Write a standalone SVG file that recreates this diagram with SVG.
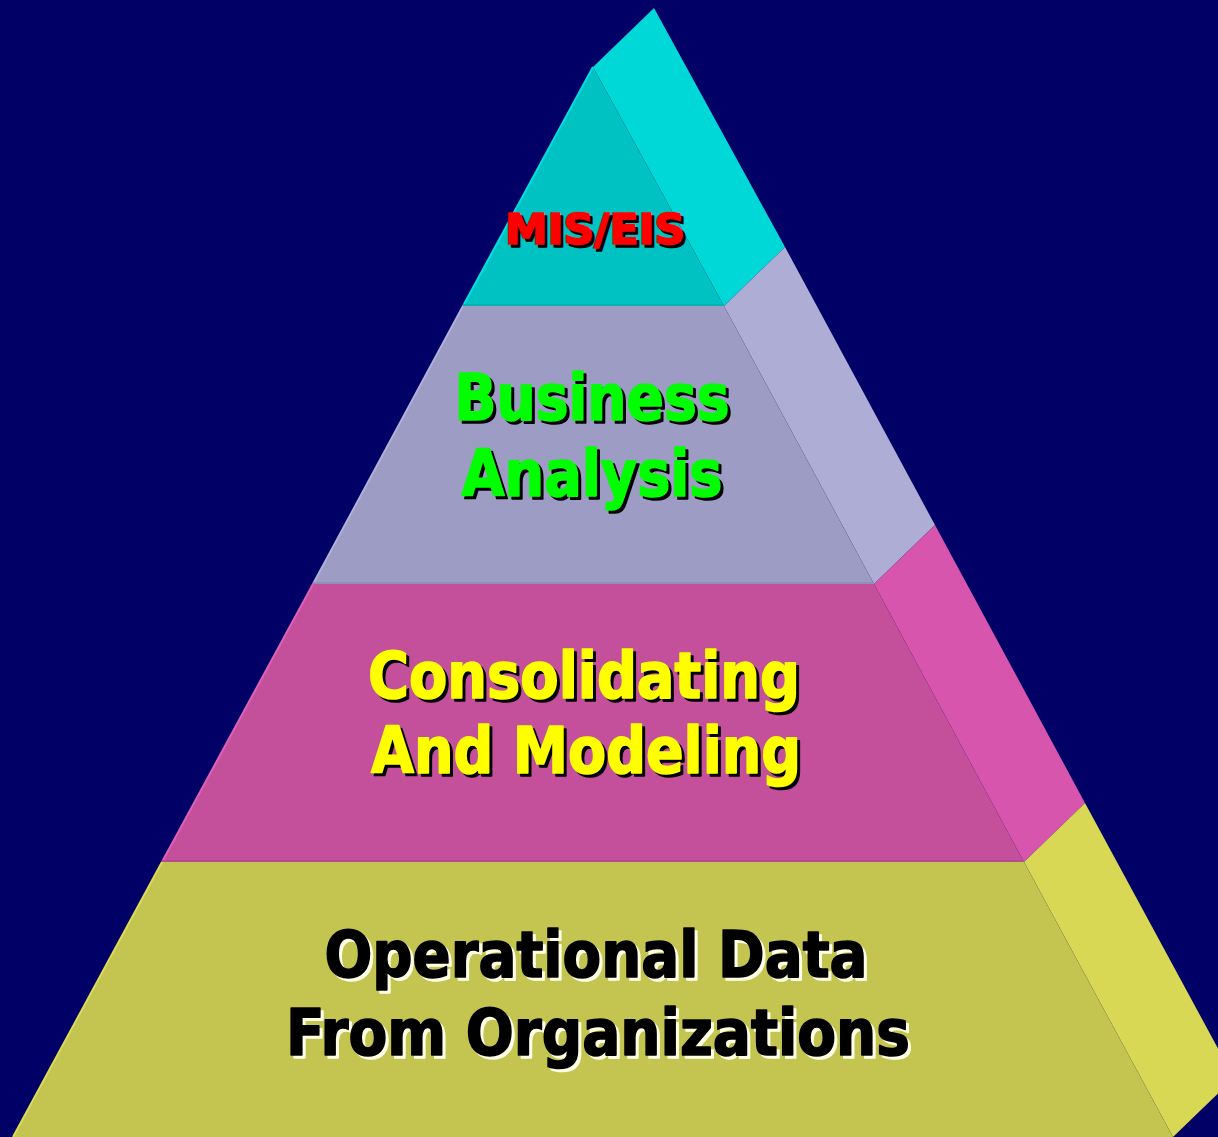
<svg xmlns="http://www.w3.org/2000/svg" width="1218" height="1137" viewBox="0 0 1218 1137">
<style>
.t{font-family:"DejaVu Sans Condensed","DejaVu Sans","Liberation Sans",sans-serif;font-stretch:condensed;font-weight:bold;text-anchor:middle;stroke-width:1.6;stroke-linejoin:round}
.big{font-size:64px}
.sh{fill:#000000;stroke:#000000}
.shw{fill:#FFFFE8;stroke:#FFFFE8}
.red{fill:#FF0000;stroke:#FF0000}
.grn{fill:#00FF00;stroke:#00FF00}
.yel{fill:#FFFF00;stroke:#FFFF00}
.blk{fill:#000000;stroke:#000000}
</style>
<rect width="1218" height="1137" fill="#000066"/>
<g id="tier-mis">
<polygon points="593,67 654,8 785,247 724,306" fill="#00D8D8"/>
<polygon points="593,67 463,306 724,306" fill="#00C2C2"/>
<line x1="593" y1="67" x2="463" y2="306" stroke="#00E0E0" stroke-width="2"/>
<line x1="463" y1="305" x2="724" y2="305" stroke="#00B4B4" stroke-width="2"/>
<text class="t sh" x="598" y="247" font-size="43" textLength="180" lengthAdjust="spacingAndGlyphs">MIS/EIS</text>
<text class="t red" x="595" y="244" font-size="43" textLength="180" lengthAdjust="spacingAndGlyphs">MIS/EIS</text>
</g>
<g id="tier-business">
<polygon points="724,306 785,247 935,525 874,584" fill="#ADADD6"/>
<polygon points="463,306 313,584 874,584 724,306" fill="#9C9CC4"/>
<line x1="463" y1="306" x2="313" y2="584" stroke="#B0B0DA" stroke-width="2"/>
<line x1="313" y1="583" x2="874" y2="583" stroke="#9090B8" stroke-width="2"/>
<text class="t big sh" x="595" y="423" textLength="275" lengthAdjust="spacingAndGlyphs">Business</text>
<text class="t big grn" x="592" y="420" textLength="275" lengthAdjust="spacingAndGlyphs">Business</text>
<text class="t big sh" x="595" y="499" textLength="261" lengthAdjust="spacingAndGlyphs">Analysis</text>
<text class="t big grn" x="592" y="496" textLength="261" lengthAdjust="spacingAndGlyphs">Analysis</text>
</g>
<g id="tier-consolidating">
<polygon points="874,584 935,525 1085,803 1024,862" fill="#D855AD"/>
<polygon points="313,584 162,862 1024,862 874,584" fill="#C4509C"/>
<line x1="313" y1="584" x2="162" y2="862" stroke="#E060B8" stroke-width="2"/>
<line x1="162" y1="861" x2="1024" y2="861" stroke="#B84C94" stroke-width="2"/>
<text class="t big sh" x="587" y="701" textLength="432" lengthAdjust="spacingAndGlyphs">Consolidating</text>
<text class="t big yel" x="584" y="698" textLength="432" lengthAdjust="spacingAndGlyphs">Consolidating</text>
<text class="t big sh" x="589" y="776" textLength="430" lengthAdjust="spacingAndGlyphs">And Modeling</text>
<text class="t big yel" x="586" y="773" textLength="430" lengthAdjust="spacingAndGlyphs">And Modeling</text>
</g>
<g id="tier-operational">
<polygon points="1024,862 1085,803 1234,1078 1173,1137" fill="#D8D855"/>
<polygon points="162,862 13,1137 1173,1137 1024,862" fill="#C4C450"/>
<line x1="162" y1="862" x2="13" y2="1137" stroke="#DCDC58" stroke-width="2"/>
<text class="t big shw" x="599" y="980" textLength="543" lengthAdjust="spacingAndGlyphs">Operational Data</text>
<text class="t big blk" x="596" y="977" textLength="543" lengthAdjust="spacingAndGlyphs">Operational Data</text>
<text class="t big shw" x="601" y="1058" textLength="624" lengthAdjust="spacingAndGlyphs">From Organizations</text>
<text class="t big blk" x="598" y="1055" textLength="624" lengthAdjust="spacingAndGlyphs">From Organizations</text>
</g>
<g id="connectors"/>
</svg>
